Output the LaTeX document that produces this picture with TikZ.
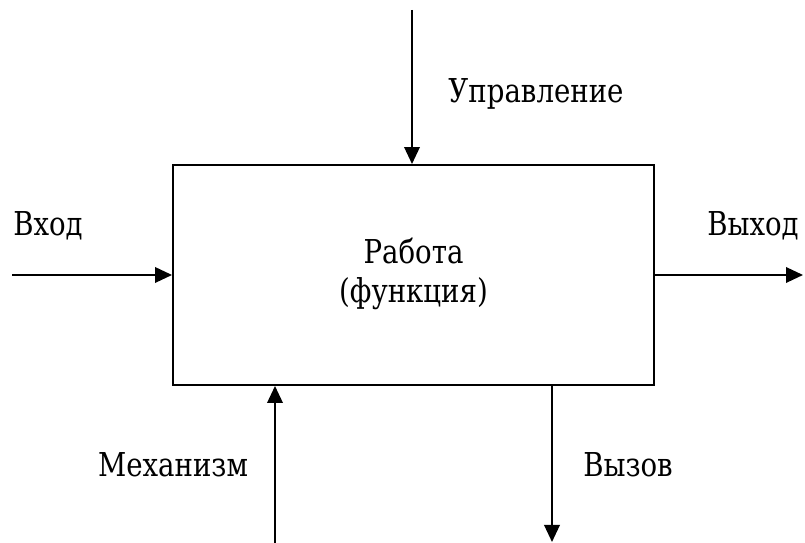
\documentclass[tikz,border=0pt]{standalone}
\usepackage{fontspec}
\setmainfont{DejaVu Serif}[FakeStretch=0.84]
\usetikzlibrary{arrows.meta}

\begin{document}
\begin{tikzpicture}[
    font=\fontsize{18.7}{22}\selectfont,
    line width=1.1pt,
    flow/.style={-{Triangle[length=3.4mm,width=3.1mm]}},
    caption/.style={anchor=base, inner sep=0pt}
]

    \useasboundingbox (0,0) rectangle (16.1,10.86);

    \node[draw, minimum width=9.62cm, minimum height=4.4cm] (work) at (8.27,5.36) {
        \begin{tabular}{c}
            Работа \\
            (функция) \\
        \end{tabular}
    };

    \coordinate (control) at (8.24,10.66);
    \coordinate (input) at (0.24,5.36);
    \coordinate (output) at (16.06,5.36);
    \coordinate (mechanism) at (5.5,0);
    \coordinate (call) at (11.04,0.02);

    \node[caption] (control label) at (10.72,8.80) {Управление};
    \node[caption] (input label) at (0.96,6.14) {Вход};
    \node[caption] (output label) at (15.06,6.14) {Выход};
    \node[caption] (mechanism label) at (3.46,1.32) {Механизм};
    \node[caption] (call label) at (12.56,1.32) {Вызов};

    \draw[flow] (control) to (control |- work.north);
    \draw[flow] (input) to (work.west);
    \draw[flow] (work.east) to (output);
    \draw[flow] (mechanism) to (mechanism |- work.south);
    \draw[flow] (call |- work.south) to (call);

\end{tikzpicture}
\end{document}
